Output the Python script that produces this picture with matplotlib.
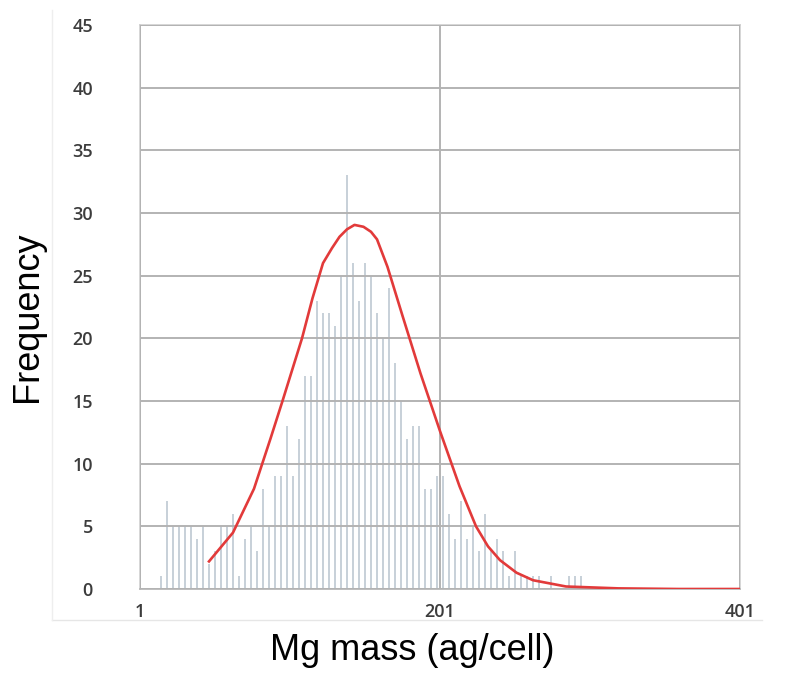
import matplotlib
matplotlib.use('Agg')
import matplotlib.pyplot as plt
from matplotlib.lines import Line2D

# histogram bins (centre of each 4-unit bin) and counts
bin_centers = list(range(15, 296, 4))
counts = [1, 7, 5, 5, 5, 5, 4, 5, 2, 3,
          5, 5, 6, 1, 4, 5, 3, 8, 5, 9,
          9, 13, 9, 12, 17, 17, 23, 22, 22, 21,
          25, 33, 26, 23, 26, 25, 22, 20, 24, 18,
          15, 12, 13, 13, 8, 8, 9, 9, 6, 4,
          7, 4, 5, 3, 6, 3, 4, 3, 1, 3,
          1, 1, 1, 1, 0, 1, 0, 0, 1, 1, 1]

# fitted curve, points
fit_x = [47, 63, 77, 88, 96, 109, 116, 123, 129, 134, 139, 144, 150, 155, 159,
         166, 176, 188, 201, 214, 225, 233, 241, 252, 263, 285, 320, 360, 401]
fit_y = [2.2, 4.5, 8.0, 12.0, 15.0, 20.0, 23.2, 26.0, 27.2, 28.1, 28.7, 29.05,
         28.9, 28.5, 27.9, 25.7, 21.8, 17.2, 12.6, 8.2, 5.0, 3.4, 2.3, 1.3,
         0.7, 0.2, 0.05, 0.0, 0.0]

x_ticks = [1, 201, 401]
y_ticks = list(range(0, 46, 5))

fig = plt.figure(figsize=(7.85, 6.75), dpi=100)
ax = fig.add_axes([140 / 785, 1 - 589 / 675, 600 / 785, 564 / 675])

ax.bar(bin_centers, counts, width=1.6, color='#c8d1d9', zorder=1)
ax.plot(fit_x, fit_y, color='#e23a3a', linewidth=1.9, zorder=3)

ax.set_xlim(1, 401)
ax.set_ylim(0, 45)
ax.set_xticks(x_ticks)
ax.set_yticks(y_ticks)
ax.grid(True, color='#b3b3b3', linewidth=1.4, zorder=2)
ax.set_axisbelow(False)
for s in ax.spines.values():
    s.set_color('#cfcfcf')
    s.set_linewidth(1.2)
ax.spines['bottom'].set_color('#b3b3b3')
ax.tick_params(length=0, labelsize=13, labelcolor='#3c3c3c')
ax.tick_params(axis='x', pad=10)
ax.tick_params(axis='y', pad=34)
for lab in ax.get_xticklabels() + ax.get_yticklabels():
    lab.set_fontfamily('Open Sans')
    lab.set_fontweight('semibold')

ax.set_ylabel('Frequency', fontsize=26, family='Liberation Sans')
ax.set_xlabel('Mg mass (ag/cell)', fontsize=26, family='Liberation Sans')
ax.yaxis.set_label_coords(-0.158, 0.482)
ax.xaxis.set_label_coords(0.454, -0.078)

# faint frame of the screenshot around the chart
fig.add_artist(Line2D([52 / 785, 762 / 785], [1 - 620 / 675, 1 - 620 / 675],
                      color='#e6e6e6', linewidth=1))
fig.add_artist(Line2D([52 / 785, 52 / 785], [1 - 620 / 675, 1 - 10 / 675],
                      color='#eeeeee', linewidth=1))

fig.savefig('out.png', dpi=100)
